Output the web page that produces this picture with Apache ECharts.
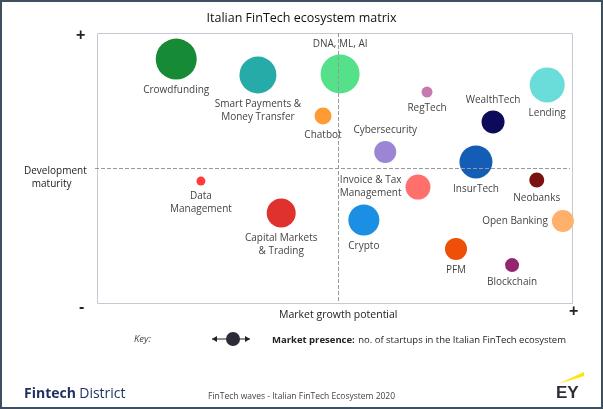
<!DOCTYPE html>
<html>
<head>
<meta charset="utf-8">
<script src="https://cdn.jsdelivr.net/npm/echarts@6/dist/echarts.min.js"></script>
<style>
  html, body { margin: 0; padding: 0; background: #fff; }
  #chart { width: 599px; height: 405px; border: 2px solid #3e4f60; }
</style>
</head>
<body>
<div id="chart"></div>
<script>
// segments of the matrix: market growth (x), development maturity (y), presence (bubble size)
var names = ['Crowdfunding', 'Smart Payments &\nMoney Transfer', 'DNA, ML, AI', 'RegTech', 'Lending',
    'Chatbot', 'WealthTech', 'Cybersecurity', 'InsurTech', 'Data\nManagement', 'Invoice & Tax\nManagement',
    'Neobanks', 'Capital Markets\n& Trading', 'Crypto', 'Open Banking', 'PFM', 'Blockchain'];
var growth = [17.1, 34.3, 51.6, 69.9, 95.2, 48.0, 83.8, 61.1, 80.2, 22.3, 68.0, 93.0, 39.2, 56.6, 98.5, 76.0, 87.8];
var maturity = [89.6, 83.7, 84.1, 77.4, 80.0, 68.5, 66.3, 55.2, 51.5, 44.4, 42.2, 44.8, 32.6, 30.0, 29.6, 19.3, 13.3];
var presence = [41, 37, 39, 11, 35, 17, 23, 22, 33, 9, 25, 15, 29, 31, 22, 22, 14];
var colors = ['#178a36', '#26aba8', '#55e08a', '#c87ab0', '#6adcd9', '#ff9a35', '#0b0b5a', '#9b85d4',
    '#145db6', '#ff3b3b', '#ff6f6b', '#7a1212', '#e0322c', '#1a8fe3', '#ffb06b', '#ef5009', '#93266f'];
var labelPos = ['bottom', 'bottom', 'top', 'bottom', 'bottom', 'bottom', 'top', 'top', 'bottom',
    'bottom', 'left', 'bottom', 'bottom', 'bottom', 'left', 'bottom', 'bottom'];

var chart = echarts.init(document.getElementById('chart'));
var font = 'Open Sans';

var data = names.map(function (n, i) {
    return {
        name: n,
        value: [growth[i], maturity[i], presence[i]],
        symbolSize: presence[i],
        itemStyle: { color: colors[i], opacity: 1 },
        label: { position: labelPos[i] }
    };
});

chart.setOption({
    animation: false,
    textStyle: { fontFamily: font },
    title: {
        text: 'Italian FinTech ecosystem matrix', left: 'center', top: 5,
        textStyle: { fontSize: 12.5, fontWeight: 500, color: '#111', fontFamily: font }
    },
    grid: { left: 93, right: 31, top: 29, bottom: 106 },
    xAxis: {
        type: 'value', min: 0, max: 100,
        axisLine: { show: false }, axisTick: { show: false }, axisLabel: { show: false },
        splitLine: { show: false }
    },
    yAxis: {
        type: 'value', min: 0, max: 100,
        axisLine: { show: false }, axisTick: { show: false }, axisLabel: { show: false },
        splitLine: { show: false }
    },
    series: [{
        type: 'scatter',
        data: data,
        label: {
            show: true,
            formatter: '{b}',
            color: '#444',
            fontSize: 10,
            lineHeight: 13,
            distance: 4,
            fontFamily: font
        },
        markLine: {
            silent: true, symbol: 'none', label: { show: false },
            lineStyle: { type: 'dashed', color: '#999', width: 1 },
            data: [{ xAxis: 51.3 }, { yAxis: 49 }]
        }
    }],
    graphic: [
        { type: 'rect', left: 93, top: 29, shape: { width: 475, height: 270 },
          style: { fill: 'none', stroke: '#c8c8d4', lineWidth: 1 } },
        { type: 'text', left: 74, top: 26, style: { text: '+', fontSize: 16, fontWeight: 'bold', fill: '#222' } },
        { type: 'text', left: 77, top: 298, style: { text: '-', fontSize: 16, fontWeight: 'bold', fill: '#222' } },
        { type: 'text', left: 567, top: 302, style: { text: '+', fontSize: 16, fontWeight: 'bold', fill: '#222' } },
        { type: 'text', left: 22, top: 163, style: { text: 'Development\n   maturity', fontSize: 10, lineHeight: 13, fill: '#222', fontFamily: font } },
        { type: 'text', left: 277, top: 308, style: { text: 'Market growth potential', fontSize: 10.5, fill: '#222', fontFamily: font } },
        { type: 'text', left: 132, top: 332, style: { text: 'Key:', fontSize: 9.5, fontStyle: 'italic', fill: '#444', fontFamily: font } },
        { type: 'line', shape: { x1: 210, y1: 337, x2: 248, y2: 337 }, style: { stroke: '#222', lineWidth: 1 } },
        { type: 'polygon', shape: { points: [[210, 337], [215, 334], [215, 340]] }, style: { fill: '#222' } },
        { type: 'polygon', shape: { points: [[248, 337], [243, 334], [243, 340]] }, style: { fill: '#222' } },
        { type: 'circle', shape: { cx: 231, cy: 337, r: 7 }, style: { fill: '#2c2c38' } },
        { type: 'text', left: 270, top: 332, style: {
            rich: { b: { fontWeight: 'bold', fontSize: 9.5, fill: '#222', fontFamily: font },
                    n: { fontSize: 9.5, fill: '#222', fontFamily: font } },
            text: '{b|Market presence:} {n|no. of startups in the Italian FinTech ecosystem}' } },
        { type: 'text', left: 22, top: 385, style: {
            rich: { b: { fontWeight: 'bold', fontSize: 14, fill: '#1f2f5f', fontFamily: font },
                    n: { fontSize: 14, fill: '#1f2f5f', fontFamily: font } },
            text: '{b|Fintech} {n|District}' } },
        { type: 'text', left: 206, top: 390, style: { text: 'FinTech waves - Italian FinTech Ecosystem 2020', fontSize: 8.5, fill: '#444', fontFamily: font } },
        { type: 'polygon', shape: { points: [[556, 382], [582, 370], [582, 374]] }, style: { fill: '#ffe600' } },
        { type: 'text', left: 554, top: 383, style: { text: 'EY', fontSize: 17, fontWeight: 'bold', fill: '#2e2e38', fontFamily: 'Liberation Sans' } }
    ]
});
</script>
</body>
</html>
